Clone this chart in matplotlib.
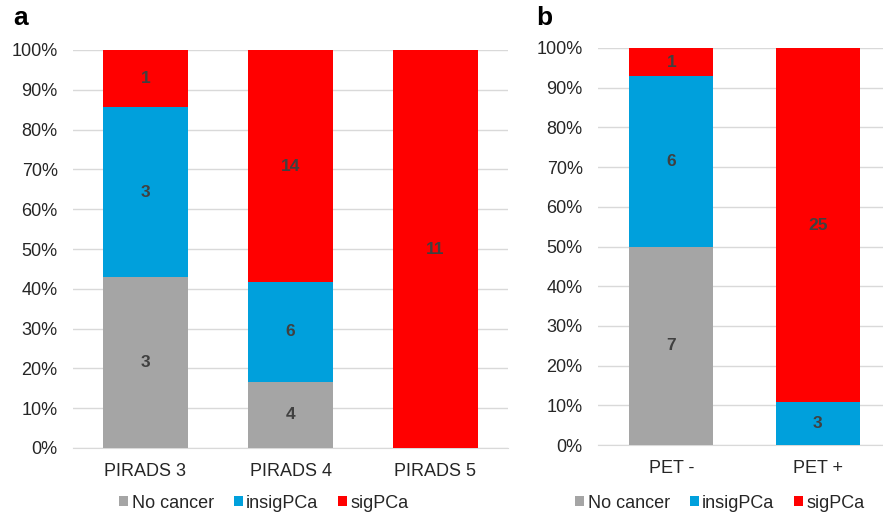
import matplotlib
matplotlib.use("Agg")
import matplotlib.pyplot as plt
import numpy as np
from matplotlib.patches import Patch
from matplotlib.ticker import PercentFormatter

plt.rcParams['font.family'] = ['Liberation Sans', 'DejaVu Sans']

series = ["No cancer", "insigPCa", "sigPCa"]
colors = ["#A5A5A5", "#00A0DC", "#FF0000"]

cats_a = ["PIRADS 3", "PIRADS 4", "PIRADS 5"]
no_cancer_a = [3, 4, 0]
insig_a = [3, 6, 0]
sig_a = [1, 14, 11]

cats_b = ["PET -", "PET +"]
no_cancer_b = [7, 0]
insig_b = [6, 3]
sig_b = [1, 25]

W, H = 883, 517
fig = plt.figure(figsize=(W / 100, H / 100), dpi=100)


def px_axes(x0, x1, ytop, ybot):
    return fig.add_axes([x0 / W, (H - ybot) / H, (x1 - x0) / W, (ybot - ytop) / H])


def draw(ax, cats, data, width, legend_cx):
    data = np.array(data, dtype=float)
    totals = data.sum(axis=0)
    pct = data / totals * 100
    x = np.arange(len(cats))
    bottom = np.zeros(len(cats))
    for i in range(len(data)):
        ax.bar(x, pct[i], width, bottom=bottom, color=colors[i], zorder=2)
        for j in range(len(cats)):
            if data[i, j] > 0:
                ax.text(x[j], bottom[j] + pct[i, j] / 2, f"{int(data[i, j])}",
                        ha="center", va="center", fontsize=12.5, fontweight="bold",
                        color="#404040", zorder=3)
        bottom += pct[i]
    ax.set_xlim(-0.5, len(cats) - 0.5)
    ax.set_ylim(0, 100)
    ax.set_yticks(np.arange(0, 101, 10))
    ax.yaxis.set_major_formatter(PercentFormatter(decimals=0))
    ax.set_xticks(x)
    ax.set_xticklabels(cats)
    ax.tick_params(length=0, labelsize=13, labelcolor="#262626")
    ax.tick_params(axis="x", pad=11)
    ax.tick_params(axis="y", pad=11)
    ax.grid(axis="y", color="#D9D9D9", linewidth=1, zorder=0)
    for s in ["top", "right", "left"]:
        ax.spines[s].set_visible(False)
    ax.spines["bottom"].set_color("#D9D9D9")
    ax.spines["bottom"].set_zorder(1)
    handles = [Patch(facecolor=c, edgecolor="none") for c in colors]
    fig.legend(handles, series, loc="center", bbox_to_anchor=(legend_cx / W, (H - 503) / H),
               ncol=3, frameon=False, fontsize=13, handlelength=0.5, handleheight=0.5,
               handletextpad=0.2, columnspacing=1.1, labelcolor="#262626")


ax_a = px_axes(73, 508, 50, 448)
draw(ax_a, cats_a, [no_cancer_a, insig_a, sig_a], 0.58, 264)

ax_b = px_axes(598, 891, 48, 445)
draw(ax_b, cats_b, [no_cancer_b, insig_b, sig_b], 0.573, 720)

fig.text(13 / W, (H - 18) / H, "a", fontsize=19, fontweight="bold", va="center", ha="left")
fig.text(536 / W, (H - 18) / H, "b", fontsize=19, fontweight="bold", va="center", ha="left")

fig.savefig("out.png", dpi=100)
